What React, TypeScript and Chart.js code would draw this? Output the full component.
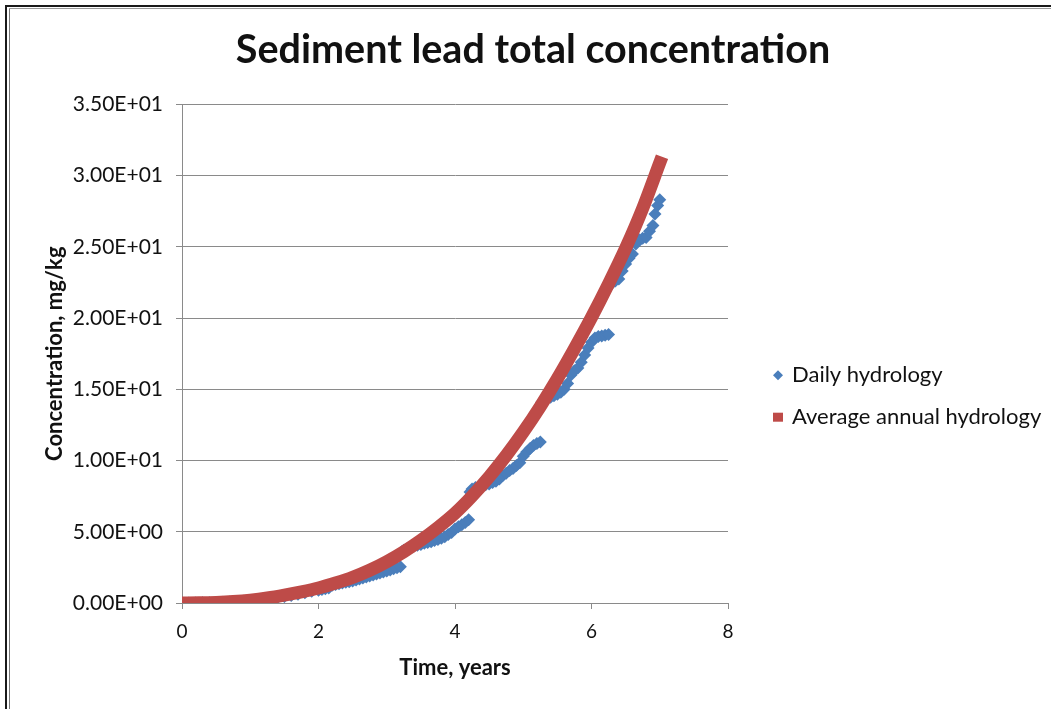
import React, { useEffect, useRef } from "react";
import { Chart, registerables } from "chart.js";

Chart.register(...registerables);

const TITLE = "Sediment lead total concentration";
const X_TITLE = "Time, years";
const Y_TITLE = "Concentration, mg/kg";
const SERIES_NAMES = ["Daily hydrology", "Average annual hydrology"];

// Average annual hydrology (dense red curve)
const AVG_TIME = [0, 0.25, 0.5, 0.75, 1.0, 1.25, 1.5, 1.75, 2.0, 2.25, 2.5, 2.75, 3.0, 3.25, 3.5, 3.75, 4.0, 4.25, 4.5, 4.75, 5.0, 5.25, 5.5, 5.75, 6.0, 6.25, 6.5, 6.75, 7.0];
const AVG_CONC = [0, 0.01, 0.04, 0.1, 0.2, 0.35, 0.55, 0.78, 1.05, 1.4, 1.8, 2.3, 2.9, 3.6, 4.4, 5.3, 6.3, 7.5, 8.85, 10.35, 12.0, 13.8, 15.75, 17.85, 20.05, 22.4, 24.9, 27.7, 30.9];

// Daily hydrology (blue diamonds)
const DAILY_TIME = [
  0, 0.1, 0.2, 0.3, 0.4, 0.5, 0.6, 0.7, 0.8, 0.9, 1.0, 1.1, 1.2, 1.3, 1.4, 1.5, 1.6, 1.7, 1.8, 1.9,
  2.0, 2.05, 2.1, 2.15, 2.2, 2.25, 2.3, 2.35, 2.4, 2.45, 2.5, 2.55, 2.6, 2.65, 2.7, 2.75, 2.8, 2.85, 2.9, 2.95,
  3.0, 3.05, 3.1, 3.15, 3.2, 3.22, 3.25, 3.3, 3.35, 3.4, 3.45, 3.5, 3.55, 3.6, 3.65, 3.7, 3.75, 3.8, 3.85, 3.9, 3.95,
  4.0, 4.05, 4.1, 4.15, 4.2, 4.22, 4.25, 4.3, 4.35, 4.4, 4.45, 4.5, 4.55, 4.6, 4.65, 4.7, 4.75, 4.8, 4.85, 4.9, 4.95,
  5.0, 5.05, 5.1, 5.15, 5.2, 5.25, 5.27, 5.3, 5.35, 5.4, 5.45, 5.5, 5.55, 5.6, 5.65, 5.7, 5.75, 5.8, 5.85, 5.9, 5.95,
  6.0, 6.05, 6.1, 6.15, 6.2, 6.25, 6.27, 6.3, 6.35, 6.4, 6.45, 6.5, 6.55, 6.6, 6.65, 6.7, 6.75, 6.8, 6.85, 6.9, 6.93, 6.97, 7.0,
];
const DAILY_CONC = [
  0, 0, 0.005, 0.01, 0.02, 0.03, 0.05, 0.07, 0.09, 0.12, 0.16, 0.2, 0.25, 0.31, 0.38, 0.45, 0.53, 0.62, 0.72, 0.82,
  0.9, 0.95, 1.0, 1.05, 1.25, 1.3, 1.35, 1.4, 1.45, 1.5, 1.55, 1.62, 1.68, 1.75, 1.82, 1.9, 1.97, 2.04, 2.1, 2.18,
  2.25, 2.32, 2.4, 2.48, 2.55, 3.6, 3.7, 3.8, 3.9, 4.0, 4.05, 4.1, 4.2, 4.25, 4.3, 4.38, 4.45, 4.55, 4.65, 4.8, 4.95,
  5.2, 5.35, 5.5, 5.65, 5.85, 7.8, 8.0, 8.1, 8.15, 8.2, 8.3, 8.35, 8.45, 8.55, 8.7, 8.95, 9.1, 9.3, 9.45, 9.65, 9.85,
  10.3, 10.6, 10.85, 11.05, 11.2, 11.3, 14.1, 14.25, 14.35, 14.45, 14.55, 14.65, 14.8, 15.0, 15.4, 16.0, 16.3, 16.5, 16.9, 17.4, 17.9,
  18.3, 18.6, 18.7, 18.75, 18.8, 18.85, 22.3, 22.45, 22.6, 22.75, 23.3, 23.8, 24.2, 24.5, 25.2, 25.5, 25.6, 25.65, 26.1, 26.5, 27.3, 27.9, 28.3,
];

const X_MIN = 0;
const X_MAX = 8;
const X_STEP = 2;
const Y_MIN = 0;
const Y_MAX = 35;
const Y_STEP = 5;

const FONT = "Lato, 'Open Sans', sans-serif";
const BLUE = "#4A7EBB";
const RED = "#BE4B48";
const GRID = "#8A8A8A";
const TEXT = "#111111";

function sci(v: number): string {
  const [m, e] = v.toExponential(2).split("e");
  const n = parseInt(e, 10);
  return `${m}E${n < 0 ? "-" : "+"}${String(Math.abs(n)).padStart(2, "0")}`;
}

const sideLegend = {
  id: "sideLegend",
  afterDraw(chart: any) {
    const { ctx, chartArea } = chart;
    const mid = (chartArea.top + chartArea.bottom) / 2;
    const mx = chartArea.right + 50;
    const tx = chartArea.right + 64;
    ctx.save();
    const y1 = mid + 21.5;
    ctx.fillStyle = BLUE;
    ctx.beginPath();
    ctx.moveTo(mx, y1 - 5);
    ctx.lineTo(mx + 5, y1);
    ctx.lineTo(mx, y1 + 5);
    ctx.lineTo(mx - 5, y1);
    ctx.closePath();
    ctx.fill();
    const y2 = mid + 63.5;
    ctx.fillStyle = RED;
    ctx.fillRect(mx - 5, y2 - 4.5, 10, 9);
    ctx.fillStyle = TEXT;
    ctx.font = `22px ${FONT}`;
    ctx.textAlign = "left";
    ctx.textBaseline = "alphabetic";
    ctx.fillText(SERIES_NAMES[0], tx, y1 + 7);
    ctx.fillText(SERIES_NAMES[1], tx, y2 + 7);
    ctx.restore();
  },
};

function ChartCanvas() {
  const ref = useRef<HTMLCanvasElement | null>(null);
  useEffect(() => {
    if (!ref.current) return;
    const avg = AVG_TIME.map((t, i) => ({ x: t, y: AVG_CONC[i] }));
    const daily = DAILY_TIME.map((t, i) => ({ x: t, y: DAILY_CONC[i] }));
    const chart = new Chart(ref.current, {
      type: "scatter",
      data: {
        datasets: [
          {
            label: SERIES_NAMES[1],
            data: avg,
            showLine: true,
            borderColor: RED,
            backgroundColor: RED,
            borderWidth: 13,
            borderCapStyle: "square",
            borderJoinStyle: "round",
            cubicInterpolationMode: "monotone",
            pointRadius: 0,
            pointHoverRadius: 0,
          },
          {
            label: SERIES_NAMES[0],
            data: daily,
            showLine: false,
            pointStyle: "rectRot",
            pointRadius: 6.5,
            pointBorderWidth: 0,
            backgroundColor: BLUE,
            borderColor: BLUE,
          },
        ],
      },
      options: {
        responsive: false,
        animation: false,
        layout: { padding: { left: 15, right: 0, top: 0, bottom: 0 } },
        plugins: {
          legend: { display: false },
          tooltip: { enabled: false },
          title: {
            display: true,
            text: TITLE,
            color: TEXT,
            font: { family: FONT, size: 39.5, weight: "bold", lineHeight: 1.2 },
            padding: { top: 27, bottom: 30 },
          },
        },
        scales: {
          x: {
            type: "linear",
            min: X_MIN,
            max: X_MAX,
            afterFit: (s: any) => {
              s.height = 106;
            },
            ticks: {
              stepSize: X_STEP,
              color: TEXT,
              padding: 11,
              font: { family: FONT, size: 19 },
              callback: (v: any) => String(v),
            },
            grid: {
              drawOnChartArea: false,
              drawTicks: true,
              tickLength: 6,
              color: GRID,
            },
            border: { color: GRID, width: 1 },
            title: {
              display: true,
              text: X_TITLE,
              color: TEXT,
              font: { family: FONT, size: 22, weight: "bold", lineHeight: 1.2 },
              padding: { top: 0, bottom: 28 },
            },
          },
          y: {
            type: "linear",
            position: "left",
            min: Y_MIN,
            max: Y_MAX,
            afterFit: (s: any) => {
              s.width = 167;
            },
            ticks: {
              stepSize: Y_STEP,
              color: TEXT,
              padding: 13,
              font: { family: FONT, size: 21 },
              callback: (v: any) => sci(Number(v)),
            },
            grid: {
              drawOnChartArea: true,
              drawTicks: true,
              tickLength: 6,
              color: GRID,
            },
            border: { color: GRID, width: 1 },
            title: {
              display: true,
              text: Y_TITLE,
              color: TEXT,
              font: { family: FONT, size: 22, weight: "bold", lineHeight: 1.2 },
              padding: { top: 27, bottom: 0 },
            },
          },
          legendSpace: {
            type: "linear",
            position: "right",
            display: true,
            min: 0,
            max: 1,
            afterFit: (s: any) => {
              s.width = 323;
            },
            ticks: { display: false },
            grid: { display: false, drawTicks: false },
            border: { display: false },
            title: { display: false },
          },
        },
      },
      plugins: [sideLegend],
    } as any);
    return () => chart.destroy();
  }, []);
  return (
    <canvas
      ref={ref}
      width={1051}
      height={709}
      style={{ position: "absolute", left: 0, top: 0, width: 1051, height: 709 }}
    />
  );
}

export default function App() {
  return (
    <div
      style={{
        position: "fixed",
        left: 0,
        top: 0,
        width: 1051,
        height: 709,
        background: "#ffffff",
        overflow: "hidden",
      }}
    >
      <ChartCanvas />
      <div style={{ position: "absolute", left: 5, top: 5, width: 2, height: 720, background: "#1a1a1a" }} />
      <div style={{ position: "absolute", left: 5, top: 5, width: 1060, height: 2, background: "#1a1a1a" }} />
      <div style={{ position: "absolute", left: 9, top: 9, width: 1, height: 720, background: "#777777" }} />
      <div style={{ position: "absolute", left: 9, top: 8, width: 1060, height: 1, background: "#9a9a9a" }} />
    </div>
  );
}
